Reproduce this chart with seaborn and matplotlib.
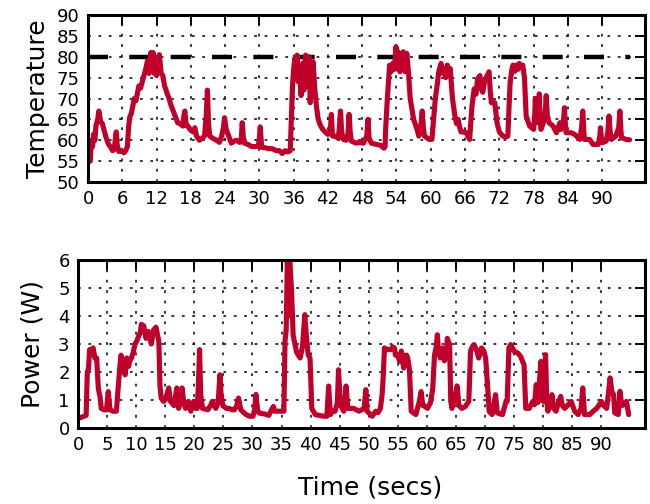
import numpy as np
import pandas as pd
import matplotlib
matplotlib.use("Agg")
import matplotlib.pyplot as plt
import seaborn as sns

# ---------------- data ----------------
temp_time = [
    0.0, 0.4, 0.6, 0.8, 1.0, 1.2, 1.4, 1.7, 1.9, 2.2,
    2.5, 2.8, 3.2, 3.6, 3.9, 4.3, 4.6, 4.8, 4.95, 5.1,
    5.4, 5.8, 6.3, 6.6, 6.9, 7.1, 7.3, 7.6, 8.1, 8.4,
    8.9, 9.2, 9.5, 9.8, 10.1, 10.4, 10.7, 11.0, 11.2, 11.4,
    11.6, 11.8, 12.0, 12.2, 12.5, 12.8, 13.1, 13.4, 13.6, 13.9,
    14.2, 14.5, 14.8, 15.2, 15.7, 16.1, 16.6, 16.8, 16.95, 17.2,
    17.5, 17.9, 18.4, 18.7, 19.0, 19.5, 20.0, 20.4, 20.7, 20.9,
    21.1, 21.3, 21.8, 22.5, 23.0, 23.4, 23.7, 23.9, 24.2, 24.5,
    25.1, 25.6, 26.0, 26.5, 26.8, 27.0, 27.2, 27.4, 28.0, 28.6,
    29.2, 29.8, 30.0, 30.15, 30.4, 31.0, 31.6, 32.2, 33.0, 33.5,
    34.0, 34.5, 35.0, 35.4, 35.6, 35.8, 36.0, 36.2, 36.4, 36.6,
    36.8, 37.0, 37.3, 37.6, 37.8, 38.1, 38.4, 38.7, 38.9, 39.1,
    39.4, 39.7, 40.0, 40.3, 40.7, 41.1, 41.5, 42.0, 42.4, 42.6,
    42.8, 43.2, 43.8, 44.0, 44.2, 44.4, 44.7, 45.2, 45.5, 45.7,
    45.9, 46.1, 46.6, 47.0, 47.6, 48.2, 48.8, 49.0, 49.2, 49.6,
    50.5, 51.2, 51.8, 52.0, 52.1, 52.4, 52.8, 53.1, 53.4, 53.7,
    53.9, 54.1, 54.3, 54.6, 54.9, 55.2, 55.5, 55.8, 56.1, 56.4,
    57.0, 57.6, 57.9, 58.3, 58.5, 58.7, 58.9, 59.4, 59.7, 60.2,
    60.5, 60.8, 61.1, 61.4, 61.8, 62.1, 62.3, 62.6, 62.9, 63.2,
    63.4, 63.8, 64.2, 64.5, 64.8, 65.0, 65.3, 65.6, 66.2, 66.8,
    67.2, 67.6, 67.9, 68.2, 68.6, 68.9, 69.1, 69.4, 69.7, 70.2,
    70.4, 70.6, 71.2, 71.6, 72.0, 72.6, 73.1, 73.5, 73.7, 73.9,
    74.2, 74.4, 74.7, 75.0, 75.3, 75.5, 75.8, 76.1, 76.4, 76.7,
    77.3, 78.0, 78.2, 78.3, 78.5, 78.7, 78.9, 79.0, 79.1, 79.3,
    79.9, 80.1, 80.2, 80.4, 80.7, 81.4, 82.0, 82.6, 82.8, 83.2,
    83.4, 83.6, 83.7, 84.6, 85.2, 86.1, 86.4, 86.6, 86.8, 86.9,
    87.8, 88.4, 89.3, 89.6, 89.7, 89.9, 90.0, 90.7, 91.0, 91.2,
    91.4, 91.6, 92.4, 92.9, 93.1, 93.3, 93.4, 94.2, 94.8,
]
temperature = [
    55.0, 55.0, 60.0, 58.5, 61.5, 60.0, 63.5, 65.0, 67.0, 64.5,
    64.0, 62.5, 60.5, 59.0, 58.5, 57.5, 57.8, 60.5, 62.0, 59.0,
    57.3, 57.5, 57.0, 57.5, 58.5, 63.0, 65.5, 66.5, 70.0, 69.5,
    73.0, 72.5, 74.0, 75.5, 77.0, 79.0, 76.0, 81.0, 77.0, 81.0,
    76.0, 79.0, 75.5, 78.0, 80.5, 76.0, 75.5, 73.0, 72.3, 71.0,
    70.0, 68.5, 67.4, 66.0, 64.2, 64.0, 63.4, 66.0, 67.0, 63.5,
    63.4, 62.5, 62.0, 63.0, 61.0, 60.0, 60.5, 61.0, 66.0, 72.0,
    64.0, 61.0, 60.5, 60.0, 59.5, 61.0, 63.0, 65.4, 62.5, 61.5,
    59.3, 59.8, 60.0, 59.5, 59.6, 64.2, 60.5, 59.3, 59.0, 58.5,
    58.5, 58.5, 60.5, 63.2, 58.3, 58.2, 58.0, 58.0, 57.5, 57.5,
    56.8, 57.5, 57.2, 57.5, 65.0, 73.0, 77.0, 79.6, 75.0, 80.4,
    74.0, 77.0, 70.7, 78.5, 72.0, 80.4, 73.0, 80.0, 69.0, 76.0,
    78.8, 72.3, 68.0, 65.0, 63.5, 62.6, 62.0, 61.4, 62.0, 66.2,
    61.0, 61.0, 60.5, 63.0, 67.0, 62.0, 60.2, 60.0, 61.5, 66.2,
    62.0, 59.8, 59.5, 59.3, 59.5, 59.3, 61.0, 65.0, 60.5, 59.3,
    59.0, 58.8, 58.1, 58.5, 62.6, 70.0, 78.0, 76.5, 78.5, 77.0,
    82.4, 80.0, 81.2, 76.4, 79.0, 81.2, 76.4, 80.8, 76.3, 70.0,
    65.0, 62.6, 61.0, 64.0, 67.0, 63.0, 61.0, 60.5, 60.2, 60.2,
    65.0, 70.0, 73.0, 76.4, 78.4, 76.0, 77.2, 75.0, 78.0, 75.5,
    77.2, 70.0, 66.0, 64.0, 65.0, 63.4, 62.0, 62.0, 61.8, 60.2,
    68.0, 72.3, 71.0, 74.7, 75.5, 72.0, 71.5, 74.0, 75.0, 76.4,
    72.0, 69.0, 69.0, 64.2, 62.0, 61.0, 60.8, 61.0, 68.0, 73.9,
    77.0, 78.0, 76.5, 78.0, 77.0, 78.4, 77.5, 78.0, 75.0, 65.8,
    63.4, 62.6, 66.0, 70.0, 65.0, 64.2, 68.0, 71.1, 66.0, 62.6,
    65.0, 68.0, 70.7, 66.0, 64.2, 63.4, 61.8, 64.2, 62.6, 64.0,
    67.8, 63.0, 61.8, 61.8, 61.4, 60.2, 63.0, 67.0, 62.0, 60.2,
    60.2, 59.0, 59.0, 61.0, 63.0, 60.0, 59.4, 59.8, 62.0, 65.8,
    62.0, 60.2, 61.0, 63.0, 67.0, 62.0, 60.6, 60.2, 60.1,
]

power_time = [
    0.0, 0.3, 0.8, 1.4, 1.6, 1.8, 2.0, 2.3, 2.6, 2.9,
    3.2, 3.5, 3.8, 4.0, 4.5, 4.9, 5.2, 5.5, 6.0, 6.6,
    6.9, 7.2, 7.4, 7.8, 8.1, 8.4, 8.7, 8.9, 9.2, 9.5,
    9.8, 10.1, 10.4, 10.7, 10.9, 11.3, 11.7, 12.1, 12.4, 12.6,
    13.0, 13.4, 13.9, 14.1, 14.3, 14.7, 15.0, 15.3, 15.6, 15.9,
    16.5, 17.0, 17.3, 17.6, 17.9, 18.2, 18.5, 19.0, 19.4, 19.9,
    20.2, 20.5, 20.7, 20.9, 21.1, 21.4, 22.3, 22.8, 23.1, 23.7,
    24.1, 24.4, 24.6, 24.9, 25.5, 26.0, 26.5, 26.9, 27.3, 27.6,
    28.0, 28.5, 28.9, 29.5, 30.1, 30.4, 30.6, 30.9, 31.2, 32.1,
    32.8, 33.3, 33.6, 33.8, 34.5, 35.0, 35.4, 35.6, 35.8, 36.0,
    36.2, 36.4, 36.7, 37.0, 37.3, 37.6, 37.9, 38.2, 38.6, 39.0,
    39.3, 39.6, 39.9, 40.2, 40.8, 41.5, 42.2, 42.8, 43.1, 43.4,
    43.8, 44.2, 44.6, 44.8, 45.1, 45.7, 46.1, 46.4, 47.0, 47.4,
    48.3, 48.8, 49.2, 49.5, 49.7, 50.6, 51.2, 51.6, 52.0, 52.3,
    52.5, 52.7, 53.2, 53.8, 54.1, 54.4, 54.6, 55.0, 55.3, 55.6,
    56.0, 56.3, 56.5, 56.7, 57.0, 57.3, 58.1, 58.7, 59.0, 59.3,
    59.5, 60.1, 60.6, 61.0, 61.3, 61.6, 61.8, 62.0, 62.3, 62.7,
    63.0, 63.3, 63.5, 63.9, 64.1, 64.3, 64.9, 65.2, 65.5, 66.0,
    66.6, 67.2, 67.5, 67.8, 68.1, 68.6, 68.9, 69.4, 69.8, 70.1,
    70.4, 70.7, 71.2, 71.8, 72.1, 72.6, 73.0, 73.6, 73.8, 74.1,
    74.4, 75.0, 75.6, 76.1, 76.4, 76.7, 77.0, 77.6, 78.2, 78.5,
    78.8, 79.0, 79.2, 79.4, 79.6, 79.8, 80.0, 80.2, 80.4, 80.6,
    80.8, 81.2, 81.5, 81.8, 82.2, 82.6, 83.0, 83.3, 83.7, 84.3,
    84.8, 85.4, 86.0, 86.5, 86.8, 87.1, 87.5, 88.0, 88.6, 89.2,
    90.0, 90.3, 90.9, 91.2, 91.5, 91.8, 92.1, 92.3, 92.9, 93.2,
    93.5, 93.8, 94.3, 94.7,
]
power = [
    0.40, 0.36, 0.40, 0.45, 2.00, 2.10, 2.80, 2.70, 2.86, 2.50,
    2.50, 1.40, 1.10, 0.70, 0.65, 0.65, 1.30, 0.65, 0.60, 0.60,
    1.40, 2.20, 2.60, 2.30, 1.90, 2.50, 2.20, 2.40, 2.50, 2.70,
    3.00, 3.10, 3.27, 3.40, 3.70, 3.65, 3.20, 3.45, 3.20, 3.00,
    3.50, 3.60, 3.10, 1.50, 1.07, 0.95, 1.00, 1.20, 1.43, 0.95,
    0.80, 1.43, 0.70, 0.90, 1.43, 0.90, 0.70, 0.95, 0.60, 0.95,
    0.70, 0.70, 1.50, 2.80, 1.20, 0.70, 0.65, 0.80, 0.95, 0.70,
    0.90, 1.90, 1.20, 0.80, 0.70, 0.70, 0.65, 0.65, 0.80, 1.07,
    0.65, 0.55, 0.48, 0.42, 0.42, 0.70, 1.20, 0.60, 0.53, 0.50,
    0.45, 0.65, 0.77, 0.60, 0.60, 0.60, 0.60, 3.10, 3.50, 6.00,
    4.00, 6.00, 5.00, 3.30, 3.00, 2.70, 2.60, 2.50, 2.90, 4.05,
    3.20, 2.60, 2.50, 0.70, 0.48, 0.45, 0.42, 0.42, 1.50, 0.48,
    0.60, 0.60, 0.90, 2.08, 0.85, 0.60, 1.50, 0.70, 0.70, 0.70,
    0.60, 0.65, 0.70, 1.37, 0.60, 0.42, 0.60, 0.55, 0.70, 1.20,
    1.90, 2.86, 2.80, 2.80, 2.90, 2.86, 2.60, 2.60, 2.38, 2.75,
    2.14, 2.60, 2.60, 2.50, 2.08, 0.60, 0.48, 0.95, 1.30, 0.80,
    0.80, 0.70, 0.90, 1.40, 2.60, 2.90, 3.33, 2.70, 2.50, 2.86,
    2.40, 2.50, 3.20, 2.98, 0.95, 0.70, 1.19, 1.50, 0.80, 0.70,
    0.77, 0.95, 2.74, 2.90, 2.98, 2.74, 2.50, 2.86, 2.74, 2.50,
    1.60, 0.60, 0.48, 1.19, 0.54, 0.50, 0.48, 0.95, 0.95, 2.86,
    2.98, 2.74, 2.68, 2.56, 2.40, 2.26, 0.70, 0.70, 0.95, 0.83,
    1.55, 0.90, 0.95, 1.80, 2.38, 1.30, 0.95, 1.80, 2.62, 1.00,
    0.60, 0.83, 1.19, 0.70, 0.60, 0.90, 1.13, 0.80, 0.70, 0.83,
    0.95, 0.60, 0.48, 0.70, 1.43, 0.48, 0.48, 0.48, 0.60, 0.70,
    0.95, 0.83, 0.70, 1.20, 1.79, 1.30, 1.19, 0.54, 0.48, 1.31,
    0.80, 0.83, 0.95, 0.48,
]

threshold_temp = 80
threshold_span = [0.0, 94.8]

temp_ticks = [50, 55, 60, 65, 70, 75, 80, 85, 90]
temp_xticks = [0, 6, 12, 18, 24, 30, 36, 42, 48, 54, 60, 66, 72, 78, 84, 90]
power_ticks = [0, 1, 2, 3, 4, 5, 6]
power_xticks = [0, 5, 10, 15, 20, 25, 30, 35, 40, 45, 50, 55, 60, 65, 70, 75, 80, 85, 90]

df_temp = pd.DataFrame({"t": temp_time, "v": temperature})
df_pow = pd.DataFrame({"t": power_time, "v": power})
df_thr = pd.DataFrame({"t": threshold_span, "v": [threshold_temp] * 2})

# ---------------- style ----------------
sns.set_style("white")
plt.rcParams["font.family"] = ["DejaVu Sans"]
plt.rcParams["text.color"] = "black"
plt.rcParams["axes.labelcolor"] = "black"

RED = "#C0002A"
LW = 3.7

fig = plt.figure(figsize=(6.5, 5.04), dpi=100)
ax1 = fig.add_axes([88 / 650, 1 - 182 / 504, 557 / 650, 167 / 504])
ax2 = fig.add_axes([78 / 650, 1 - 428 / 504, 567 / 650, 168 / 504])


def style_axes(ax):
    for s in ax.spines.values():
        s.set_linewidth(2.2)
        s.set_color("black")
        s.set_visible(True)
    ax.grid(True, color="black", linestyle=(0, (1.8, 5)), linewidth=1.1)
    ax.set_axisbelow(True)
    ax.tick_params(direction="in", length=7, width=1.4, top=True, right=True,
                   labelsize=13, colors="black", labelcolor="black", pad=6)


sns.lineplot(data=df_thr, x="t", y="v", ax=ax1, color="black", linewidth=3.2,
             linestyle=(0, (4.5, 4.8)), estimator=None, sort=False)
sns.lineplot(data=df_temp, x="t", y="v", ax=ax1, color=RED, linewidth=LW,
             estimator=None, sort=False)
ax1.set_xlim(0, 97.5)
ax1.set_ylim(50, 90)
ax1.set_xticks(temp_xticks)
ax1.set_yticks(temp_ticks)
ax1.set_xlabel("")
ax1.set_ylabel("Temperature", fontsize=18, labelpad=5, color="black")
style_axes(ax1)

sns.lineplot(data=df_pow, x="t", y="v", ax=ax2, color=RED, linewidth=LW,
             estimator=None, sort=False)
ax2.set_xlim(0, 97.5)
ax2.set_ylim(0, 6)
ax2.set_xticks(power_xticks)
ax2.set_yticks(power_ticks)
ax2.set_xlabel("Time (secs)", fontsize=18, color="black")
ax2.xaxis.set_label_coords((370 - 78) / 567, -(488 - 428) / 168)
ax2.xaxis.label.set_va("center")
ax2.set_ylabel("Power (W)", fontsize=18, labelpad=10, color="black")
style_axes(ax2)

for ln in ax1.lines + ax2.lines:
    ln.set_solid_joinstyle("round")

fig.savefig("out.png", dpi=100)
